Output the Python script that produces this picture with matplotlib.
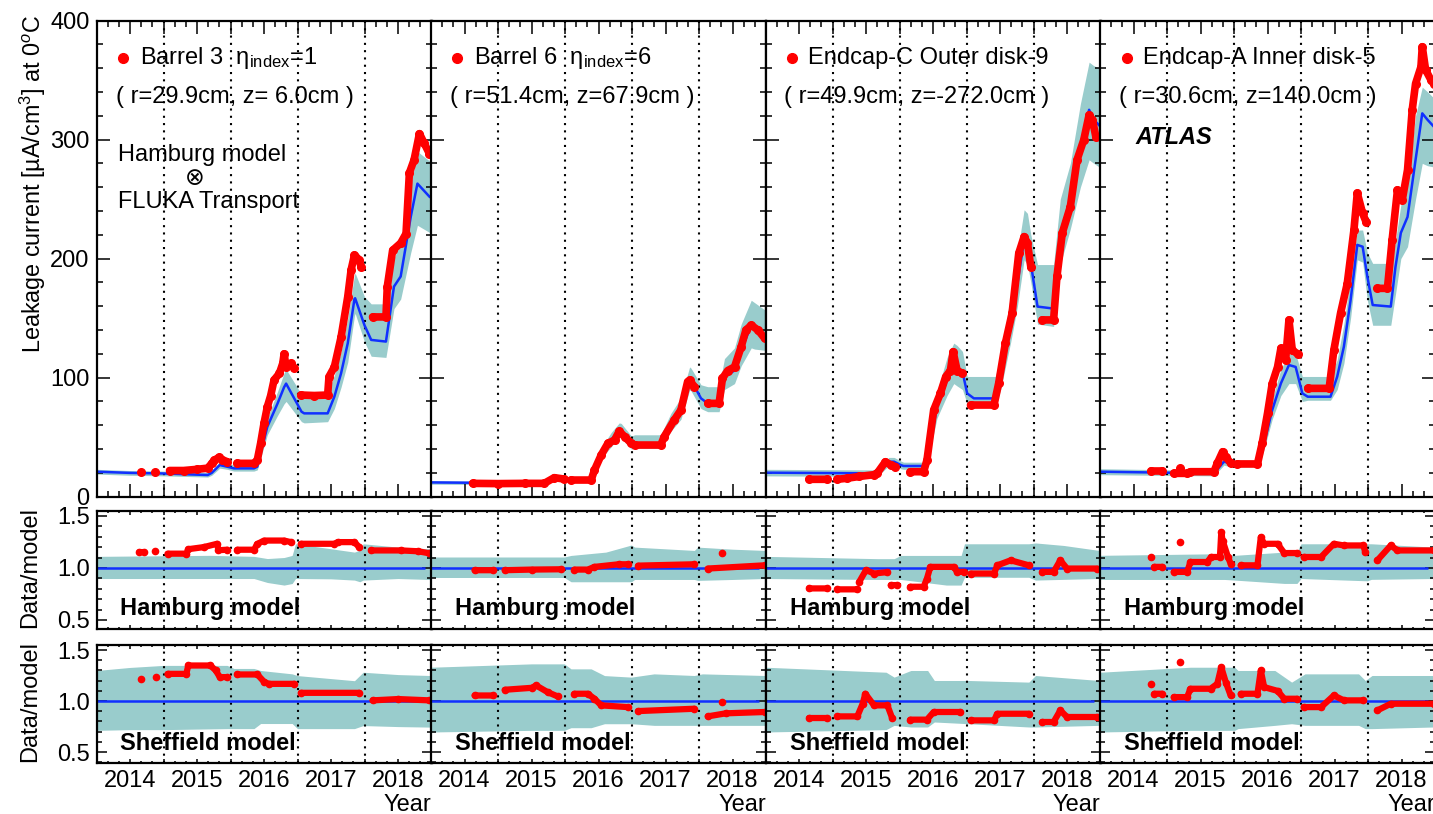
import numpy as np
import matplotlib
matplotlib.use('Agg')
import matplotlib.pyplot as plt
from matplotlib.ticker import FixedLocator, FixedFormatter, MultipleLocator, FormatStrFormatter

plt.rcParams['font.family'] = ['Liberation Sans', 'DejaVu Sans']
plt.rcParams['mathtext.fontset'] = 'custom'
plt.rcParams['mathtext.rm'] = 'Liberation Sans'
plt.rcParams['mathtext.it'] = 'Liberation Sans:italic'
plt.rcParams['mathtext.bf'] = 'Liberation Sans:bold'

nan = np.nan

# ---------------- Barrel 3 ----------------
b3_t = [2014.00, 2014.50, 2015.00, 2015.66, 2015.72, 2015.84, 2015.95, 2016.05, 2016.35, 2016.40,
        2016.55, 2016.70, 2016.80, 2016.83, 2017.06, 2017.10, 2017.45, 2017.55, 2017.65, 2017.75,
        2017.85, 2017.86, 2018.00, 2018.10, 2018.32, 2018.44, 2018.54, 2018.69, 2018.79, 2018.97]
b3_model = [21, 20, 19.5, 18.2, 20, 26.6, 25.2, 23.8, 23.8, 25.2,
            58.8, 78, 92, 95, 71.4, 70, 70, 84, 103.6, 128.9,
            166, 166.7, 144, 131.7, 130.3, 176.5, 185, 235, 263, 252]
b3_lo = [19, 18, 17.5, 16.5, 18, 24, 23, 21.5, 21.5, 22.5,
         52, 68, 78, 80, 63, 62, 63, 74, 92, 113,
         152, 154, 130, 118, 117, 158, 166, 205, 228, 222]
b3_hi = [23, 22, 21.5, 20.5, 22, 29.5, 28, 26.5, 26.5, 28,
         66, 88, 104, 107, 86, 87, 88, 102, 122, 150,
         186, 188, 168, 162, 162, 200, 215, 262, 290, 282]
b3_data_t = [2014.66, nan, 2014.87, nan, 2015.09, 2015.30, 2015.50, 2015.66, 2015.72, 2015.76,
             2015.83, 2015.88, 2015.95, nan, 2016.10, 2016.35, 2016.40, 2016.45, 2016.50, 2016.55,
             2016.60, 2016.65, 2016.73, 2016.78, 2016.80, 2016.83, 2016.90, 2016.95, nan, 2017.05,
             2017.25, 2017.45, 2017.47, 2017.55, 2017.65, 2017.75, 2017.80, 2017.85, 2017.92, 2017.95,
             nan, 2018.12, 2018.32, 2018.34, 2018.42, 2018.54, 2018.62, 2018.67, 2018.74, 2018.82,
             2018.89, 2018.97]
b3_data = [21, nan, 21, nan, 22, 22, 23, 24, 28, 30.8,
           33, 31, 29.4, nan, 28, 28, 30.8, 45, 61.6, 75.6,
           85, 98, 103.6, 112, 120, 109, 112, 108, nan, 85.4,
           85, 85.4, 100.8, 109, 134, 168, 190.5, 203, 199, 193,
           nan, 151, 151, 176.5, 207, 213, 221, 272, 283, 305,
           297, 288]
b3_ham_band_t = [2014.00, 2015.70, 2016.35, 2016.55, 2016.80, 2016.92, 2016.97, 2017.50, 2017.85,
                 2017.93, 2017.98, 2018.50, 2018.97]
b3_ham_lo = [0.898, 0.898, 0.898, 0.86, 0.835, 0.85, 0.898, 0.895, 0.883, 0.867, 0.883, 0.898, 0.889]
b3_ham_hi = [1.111, 1.121, 1.111, 1.09, 1.10, 1.12, 1.232, 1.184, 1.152, 1.17, 1.232, 1.20, 1.184]
b3_ham_t = [2014.64, 2014.71, nan, 2014.87, nan, 2015.06, 2015.34, 2015.37, 2015.60, 2015.80,
            2015.82, 2015.95, nan, 2016.10, 2016.35, 2016.40, 2016.50, 2016.80, 2016.90, nan,
            2017.05, 2017.55, 2017.60, 2017.85, 2017.92, nan, 2018.10, 2018.55, 2018.80, 2018.97]
b3_ham = [1.152, 1.152, nan, 1.162, nan, 1.137, 1.137, 1.18, 1.20, 1.232,
          1.17, 1.175, nan, 1.175, 1.175, 1.23, 1.263, 1.263, 1.248, nan,
          1.232, 1.232, 1.248, 1.248, 1.20, nan, 1.168, 1.168, 1.16, 1.14]
b3_shf_band_t = [2014.00, 2014.50, 2015.00, 2015.95, 2016.05, 2016.35, 2016.45, 2016.92, 2017.00,
                 2017.85, 2017.98, 2018.50, 2018.97]
b3_shf_lo = [0.713, 0.72, 0.72, 0.73, 0.73, 0.73, 0.78, 0.78, 0.73, 0.73, 0.76, 0.75, 0.745]
b3_shf_hi = [1.30, 1.33, 1.35, 1.35, 1.32, 1.32, 1.30, 1.267, 1.25, 1.20, 1.283, 1.26, 1.251]
b3_shf_t = [2014.66, nan, 2014.89, nan, 2015.06, 2015.34, 2015.37, 2015.70, 2015.78, 2015.84,
            2015.95, nan, 2016.10, 2016.40, 2016.50, 2016.57, 2016.95, nan, 2017.05, 2017.92,
            nan, 2018.12, 2018.50, 2018.97]
b3_shf = [1.218, nan, 1.235, nan, 1.267, 1.267, 1.349, 1.349, 1.30, 1.235,
          1.235, nan, 1.261, 1.261, 1.19, 1.169, 1.169, nan, 1.081, 1.081,
          nan, 1.007, 1.02, 1.007]

# ---------------- Barrel 6 ----------------
b6_t = [2014.00, 2015.69, 2015.84, 2015.99, 2016.39, 2016.54, 2016.69, 2016.81, 2016.84, 2016.99,
        2017.04, 2017.43, 2017.58, 2017.73, 2017.86, 2017.88, 2018.03, 2018.13, 2018.30, 2018.38,
        2018.53, 2018.63, 2018.78, 2018.83, 2018.98]
b6_model = [12, 11.2, 16.2, 14.8, 14, 36.4, 47.6, 56, 55, 44.8,
            43.4, 43.4, 61.6, 72.8, 98, 98, 82.6, 78.4, 78.4, 100.8,
            106, 123, 144, 142, 134]
b6_lo = [10.5, 10, 14.5, 13, 12.5, 32, 42, 50, 49, 40,
         40.6, 40.6, 55, 65, 89.6, 89, 74, 71.4, 71.4, 90,
         95, 110, 125, 124, 123]
b6_hi = [13.5, 12.5, 18, 16.5, 15.5, 41, 54, 62, 61.5, 51,
         52, 52, 70, 83, 109, 108, 94, 92.4, 92.4, 116,
         125, 145, 165, 163, 157]
b6_data_t = [2014.62, 2015.00, 2015.40, 2015.69, 2015.84, 2015.99, nan, 2016.09, 2016.39, 2016.44,
             2016.54, 2016.64, 2016.74, 2016.81, 2016.89, 2016.99, 2017.04, 2017.43, 2017.48, 2017.63,
             2017.73, 2017.83, 2017.86, 2017.93, nan, 2018.13, 2018.30, 2018.35, 2018.43, 2018.53,
             2018.63, 2018.70, 2018.78, 2018.88, 2018.98]
b6_data = [11.2, 11, 11.2, 11.2, 16, 14.8, nan, 14, 14, 22.4,
           35, 44.8, 47.6, 55, 50.4, 44.8, 43.4, 43.4, 50.4, 64.4,
           72.8, 96.6, 98, 92.4, nan, 78.4, 78.4, 99.4, 106, 109,
           126, 140, 144, 140, 133]
b6_ham_band_t = [2014.00, 2015.99, 2016.09, 2016.61, 2016.99, 2017.04, 2017.93, 2017.98, 2018.50, 2018.98]
b6_ham_lo = [0.908, 0.908, 0.867, 0.867, 0.867, 0.889, 0.889, 0.88, 0.889, 0.898]
b6_ham_hi = [1.105, 1.105, 1.12, 1.152, 1.22, 1.20, 1.168, 1.20, 1.18, 1.168]
b6_ham_t = [2014.65, 2014.92, nan, 2015.10, 2015.50, 2015.94, nan, 2016.14, 2016.34, 2016.44,
            2016.80, 2016.94, nan, 2017.09, 2017.93, nan, 2018.13, 2018.98, nan, 2018.35]
b6_ham = [0.978, 0.978, nan, 0.978, 0.984, 0.987, nan, 0.984, 0.984, 1.01,
          1.035, 1.035, nan, 1.022, 1.035, nan, 0.994, 1.025, nan, 1.143]
b6_shf_band_t = [2014.00, 2015.50, 2015.99, 2016.09, 2016.39, 2016.59, 2016.99, 2017.33, 2017.93,
                 2018.05, 2018.98]
b6_shf_lo = [0.697, 0.713, 0.713, 0.739, 0.739, 0.778, 0.778, 0.762, 0.762, 0.762, 0.762]
b6_shf_hi = [1.332, 1.365, 1.365, 1.316, 1.316, 1.25, 1.235, 1.267, 1.251, 1.267, 1.251]
b6_shf_t = [2014.65, 2014.92, nan, 2015.10, 2015.50, 2015.57, 2015.74, 2015.89, nan, 2016.14,
            2016.34, 2016.44, 2016.54, 2016.94, nan, 2017.09, 2017.93, nan, 2018.13, 2018.40,
            2018.98, nan, 2018.35]
b6_shf = [1.055, 1.055, nan, 1.111, 1.13, 1.153, 1.088, 1.046, nan, 1.072,
          1.072, 1.023, 0.958, 0.941, nan, 0.902, 0.925, nan, 0.85, 0.88,
          0.893, nan, 0.99]

# ---------------- Endcap-C ----------------
ecc_t = [2014.00, 2015.67, 2015.84, 2015.92, 2016.02, 2016.06, 2016.36, 2016.46, 2016.56, 2016.71,
         2016.81, 2016.86, 2016.94, 2017.01, 2017.11, 2017.43, 2017.51, 2017.66, 2017.76, 2017.86,
         2017.91, 2017.96, 2018.06, 2018.30, 2018.40, 2018.55, 2018.70, 2018.83, 2018.90, 2018.98]
ecc_model = [20.2, 19.6, 29.4, 29.4, 26.6, 25.8, 25.8, 44.8, 75.6, 98,
             112, 109, 105, 86.8, 82.6, 82.6, 103.6, 148.5, 179, 215.7,
             211.5, 196, 159.7, 158, 221.6, 249, 291, 325, 316.5, 312]
ecc_lo = [17.5, 17, 26, 26, 23.5, 23, 23, 40, 66, 85,
          95, 93, 90, 78, 75.6, 75.6, 90, 130, 160, 199,
          195, 180, 145, 143, 195, 225, 260, 283, 280, 277]
ecc_hi = [23, 22.5, 33, 33, 30, 29, 29, 52, 88, 117,
          129, 127, 122, 101, 101, 101, 117, 170, 205, 241,
          238, 220, 195, 195, 250, 280, 330, 365, 362, 360]
ecc_data_t = [2014.65, 2014.92, nan, 2015.07, 2015.22, 2015.40, 2015.62, 2015.67, 2015.79, 2015.87,
              2015.94, nan, 2016.16, 2016.36, 2016.41, 2016.51, 2016.61, 2016.69, 2016.76, 2016.80,
              2016.86, 2016.94, nan, 2017.06, 2017.41, 2017.48, 2017.58, 2017.68, 2017.78, 2017.86,
              2017.91, 2017.96, nan, 2018.13, 2018.30, 2018.35, 2018.43, 2018.55, 2018.65, 2018.75,
              2018.83, 2018.88, 2018.93]
ecc_data = [14.6, 14.6, nan, 14.6, 15.5, 17, 18.5, 20, 29.4, 26.6,
            25.2, nan, 21, 21, 30.8, 72.8, 86.8, 100.8, 106, 121.8,
            106, 103.6, nan, 77, 77, 95.2, 128.9, 154, 204.5, 218.5,
            213, 193, nan, 148.5, 148.5, 185, 221.6, 243.7, 283, 299.7,
            320.7, 316.5, 302.5]
ecc_ham_band_t = [2014.00, 2015.67, 2015.92, 2016.02, 2016.70, 2016.92, 2016.97, 2017.93, 2018.03,
                  2018.45, 2018.98]
ecc_ham_lo = [0.898, 0.889, 0.889, 0.889, 0.835, 0.835, 0.91, 0.91, 0.883, 0.89, 0.898]
ecc_ham_hi = [1.111, 1.089, 1.089, 1.12, 1.12, 1.12, 1.232, 1.232, 1.24, 1.216, 1.168]
ecc_ham_t = [2014.65, 2014.92, nan, 2015.07, 2015.37, nan, 2015.40, 2015.50, 2015.62, 2015.82,
             nan, 2015.87, 2015.97, nan, 2016.16, 2016.36, 2016.41, 2016.46, 2016.81, 2016.86,
             2016.96, nan, 2017.06, 2017.41, 2017.46, 2017.66, 2017.93, nan, 2018.13, 2018.30,
             2018.40, 2018.50, 2018.95]
ecc_ham = [0.803, 0.803, nan, 0.794, 0.794, nan, 0.867, 0.98, 0.946, 0.96,
           nan, 0.835, 0.835, nan, 0.819, 0.819, 0.898, 1.01, 1.01, 0.962,
           0.962, nan, 0.946, 0.946, 1.025, 1.073, 1.025, nan, 0.962, 0.962,
           1.073, 0.994, 0.994]
ecc_shf_band_t = [2014.00, 2015.80, 2015.92, 2016.17, 2016.42, 2016.52, 2017.03, 2017.93, 2018.03, 2018.98]
ecc_shf_lo = [0.697, 0.72, 0.762, 0.746, 0.746, 0.795, 0.778, 0.746, 0.746, 0.762]
ecc_shf_hi = [1.332, 1.283, 1.235, 1.30, 1.30, 1.202, 1.202, 1.186, 1.251, 1.202]
ecc_shf_t = [2014.65, 2014.92, nan, 2015.07, 2015.37, 2015.45, 2015.49, 2015.62, 2015.82, 2015.89,
             nan, 2016.16, 2016.41, 2016.51, 2016.91, nan, 2017.06, 2017.41, 2017.46, 2017.93,
             nan, 2018.13, 2018.30, 2018.40, 2018.50, 2018.95]
ecc_shf = [0.834, 0.834, nan, 0.85, 0.85, 0.974, 1.072, 0.958, 0.958, 0.834,
           nan, 0.818, 0.818, 0.893, 0.893, nan, 0.811, 0.811, 0.876, 0.876,
           nan, 0.795, 0.795, 0.909, 0.844, 0.844]

# ---------------- Endcap-A ----------------
eca_t = [2014.00, 2015.70, 2015.85, 2015.95, 2016.05, 2016.37, 2016.45, 2016.57, 2016.70, 2016.82,
         2016.92, 2017.02, 2017.10, 2017.44, 2017.54, 2017.64, 2017.74, 2017.84, 2017.92, 2017.99,
         2018.07, 2018.34, 2018.41, 2018.49, 2018.59, 2018.71, 2018.81, 2018.89, 2018.98]
eca_model = [21, 19.6, 29.4, 28, 28, 27.5, 44.8, 72.8, 95.2, 110.6,
             109, 86.8, 84, 84, 100.8, 126, 165, 211.5, 210, 185,
             161, 159.7, 193, 221.6, 235, 283, 322, 316.5, 311]
eca_lo = [18.5, 17.5, 26.5, 25, 25, 25, 40, 65, 85, 95,
          95, 80, 81, 81, 90, 112, 150, 199, 197, 165,
          144, 144, 170, 200, 210, 250, 280, 278, 277]
eca_hi = [23.5, 22, 32.5, 31, 31, 30.5, 50, 82, 107, 120,
          120, 101, 101, 101, 115, 145, 185, 224, 224, 205,
          196, 196, 215, 245, 265, 320, 344, 340, 335]
eca_data_t = [2014.76, 2014.93, nan, 2015.10, 2015.30, 2015.35, 2015.70, 2015.75, 2015.83, 2015.88,
              2015.95, nan, 2016.05, 2016.35, 2016.42, 2016.50, 2016.57, 2016.65, 2016.70, 2016.77,
              2016.82, 2016.87, 2016.95, nan, 2017.10, 2017.42, 2017.49, 2017.59, 2017.69, 2017.79,
              2017.84, 2017.92, 2017.97, nan, 2018.14, 2018.29, 2018.36, 2018.44, 2018.51, 2018.59,
              2018.66, 2018.71, 2018.79, 2018.81, 2018.86, 2018.94, 2018.98, nan, 2015.20]
eca_data = [21.6, 21.6, nan, 19.6, 19.6, 21, 21, 28, 37.8, 33.6,
            28, nan, 27.5, 27.5, 44.8, 70, 95, 109, 124.6, 114.8,
            148.5, 123, 120, nan, 91, 91, 123, 154, 179, 224,
            255, 238, 231, nan, 175, 175, 215.7, 257.7, 249, 274.5,
            325, 347, 361, 378, 358.5, 350, 347, nan, 24]
eca_ham_band_t = [2014.00, 2015.86, 2016.01, 2016.75, 2016.94, 2017.00, 2017.99, 2018.05, 2018.98]
eca_ham_lo = [0.889, 0.889, 0.883, 0.851, 0.851, 0.898, 0.876, 0.89, 0.898]
eca_ham_hi = [1.121, 1.137, 1.121, 1.152, 1.152, 1.232, 1.232, 1.232, 1.20]
eca_ham_t = [2014.76, nan, 2014.81, 2014.93, nan, 2015.10, 2015.30, 2015.35, 2015.60, 2015.66,
             2015.79, 2015.81, 2015.83, 2015.91, 2015.95, nan, 2016.10, 2016.35, 2016.40, 2016.45,
             2016.65, 2016.75, 2016.94, nan, 2017.04, 2017.30, 2017.49, 2017.64, 2017.93, 2017.96,
             nan, 2018.14, 2018.34, 2018.44, 2018.98, nan, 2015.20]
eca_ham = [1.105, nan, 1.01, 1.01, nan, 0.962, 0.962, 1.057, 1.057, 1.105,
           1.105, 1.343, 1.263, 1.105, 1.041, nan, 1.025, 1.025, 1.295, 1.232,
           1.232, 1.143, 1.143, nan, 1.105, 1.105, 1.232, 1.216, 1.216, 1.15,
           nan, 1.073, 1.216, 1.168, 1.168, nan, 1.248]
eca_shf_band_t = [2014.00, 2015.35, 2016.01, 2016.06, 2016.61, 2016.86, 2017.06, 2017.86, 2017.96,
                  2018.06, 2018.98]
eca_shf_lo = [0.697, 0.713, 0.713, 0.73, 0.762, 0.778, 0.762, 0.762, 0.73, 0.73, 0.746]
eca_shf_hi = [1.283, 1.332, 1.332, 1.30, 1.30, 1.186, 1.267, 1.267, 1.202, 1.251, 1.251]
eca_shf_t = [2014.76, nan, 2014.81, 2014.93, nan, 2015.10, 2015.30, 2015.35, 2015.65, 2015.75,
             2015.81, 2015.88, 2015.95, nan, 2016.10, 2016.35, 2016.40, 2016.45, 2016.65, 2016.75,
             2016.94, nan, 2017.04, 2017.30, 2017.49, 2017.64, 2017.93, nan, 2018.14, 2018.34,
             2018.98, nan, 2015.20]
eca_shf = [1.169, nan, 1.072, 1.072, nan, 1.039, 1.039, 1.121, 1.121, 1.169,
           1.332, 1.18, 1.055, nan, 1.072, 1.072, 1.30, 1.137, 1.10, 1.023,
           1.023, nan, 0.941, 0.941, 1.055, 1.007, 1.007, nan, 0.909, 0.974,
           0.974, nan, 1.381]

titles = ['Barrel 3  η$_{\\mathrm{index}}$=1', 'Barrel 6  η$_{\\mathrm{index}}$=6',
          'Endcap-C Outer disk-9', 'Endcap-A Inner disk-5']
positions = ['( r=29.9cm, z= 6.0cm )', '( r=51.4cm, z=67.9cm )',
             '( r=49.9cm, z=-272.0cm )', '( r=30.6cm, z=140.0cm )']
year_bounds = [2015, 2016, 2017, 2018]

panels = [
    (b3_t, b3_model, b3_lo, b3_hi, b3_data_t, b3_data,
     b3_ham_band_t, b3_ham_lo, b3_ham_hi, b3_ham_t, b3_ham,
     b3_shf_band_t, b3_shf_lo, b3_shf_hi, b3_shf_t, b3_shf),
    (b6_t, b6_model, b6_lo, b6_hi, b6_data_t, b6_data,
     b6_ham_band_t, b6_ham_lo, b6_ham_hi, b6_ham_t, b6_ham,
     b6_shf_band_t, b6_shf_lo, b6_shf_hi, b6_shf_t, b6_shf),
    (ecc_t, ecc_model, ecc_lo, ecc_hi, ecc_data_t, ecc_data,
     ecc_ham_band_t, ecc_ham_lo, ecc_ham_hi, ecc_ham_t, ecc_ham,
     ecc_shf_band_t, ecc_shf_lo, ecc_shf_hi, ecc_shf_t, ecc_shf),
    (eca_t, eca_model, eca_lo, eca_hi, eca_data_t, eca_data,
     eca_ham_band_t, eca_ham_lo, eca_ham_hi, eca_ham_t, eca_ham,
     eca_shf_band_t, eca_shf_lo, eca_shf_hi, eca_shf_t, eca_shf),
]

RED = '#ff0000'
BLUE = '#1030ff'
TEAL = '#99cccc'
FS = 17

W, H = 1433, 814
fig = plt.figure(figsize=(W / 100, H / 100), dpi=100)

col_left = [96.5, 431.0, 765.5, 1100.0]
col_w = 335.0
rows = [(20.5, 496.7), (510.7, 629.3), (645.0, 763.3)]


def px_axes(left, top, bottom):
    return fig.add_axes([left / W, 1 - bottom / H, col_w / W, (bottom - top) / H])


def style_x(ax, bottom_row, major_len, minor_len):
    # long ticks every half year, labels sit on the mid-year ones
    majors = [2014 + 0.5 * k for k in range(11)]
    labels = [str(int(m)) if (m % 1) == 0.5 and bottom_row else '' for m in majors]
    ax.xaxis.set_major_locator(FixedLocator(majors))
    ax.xaxis.set_major_formatter(FixedFormatter(labels))
    ax.xaxis.set_minor_locator(FixedLocator([2014 + k / 6 for k in range(31) if k % 3]))
    ax.set_xlim(2014.0, 2019.0)
    ax.tick_params(axis='x', which='major', length=major_len)
    ax.tick_params(axis='x', which='minor', length=minor_len)


def common(ax, first_col):
    ax.tick_params(which='both', direction='in', top=True, right=True, width=1.1,
                   labelsize=FS, labelleft=first_col, pad=5)
    for s in ax.spines.values():
        s.set_linewidth(1.6)
    for yr in year_bounds:
        ax.axvline(yr, color='black', ls=(0, (1, 2.5)), lw=1.5, zorder=1.5)


for c, p in enumerate(panels):
    (t, model, lo, hi, dt, dv, hbt, hlo, hhi, ht, hv, sbt, slo, shi, st, sv) = p
    L = col_left[c]
    first = c == 0

    # leakage current, data against model
    ax = px_axes(L, *rows[0])
    ax.fill_between(t, lo, hi, color=TEAL, lw=0, zorder=1)
    ax.plot(t, model, color=BLUE, lw=1.8, zorder=2)
    ax.plot(dt, dv, color=RED, lw=5.5, marker='o', ms=5.5, solid_capstyle='round', zorder=3)
    ax.set_ylim(0, 400)
    ax.yaxis.set_major_locator(MultipleLocator(100))
    ax.yaxis.set_minor_locator(MultipleLocator(20))
    style_x(ax, False, 9.4, 4.3)
    ax.tick_params(axis='y', which='major', length=9.4)
    ax.tick_params(axis='y', which='minor', length=4.3)
    common(ax, first)
    ph = rows[0][1] - rows[0][0]
    ax.plot([26.5 / col_w], [1 - (58 - 20.5) / ph], 'o', color=RED, ms=7,
            transform=ax.transAxes, clip_on=False)
    ax.text(43 / col_w, 1 - (58 - 20.5) / ph, titles[c], transform=ax.transAxes,
            fontsize=FS, ha='left', va='center')
    ax.text(19 / col_w, 1 - (97 - 20.5) / ph, positions[c], transform=ax.transAxes,
            fontsize=FS, ha='left', va='center')
    if c == 0:
        ax.text(22 / col_w, 1 - (155 - 20.5) / ph, 'Hamburg model', transform=ax.transAxes,
                fontsize=FS, ha='left', va='center')
        ax.text(98 / col_w, 1 - (178 - 20.5) / ph, '⊗', transform=ax.transAxes,
                fontsize=FS, ha='center', va='center', family=['DejaVu Sans'])
        ax.text(22 / col_w, 1 - (202 - 20.5) / ph, 'FLUKA Transport', transform=ax.transAxes,
                fontsize=FS, ha='left', va='center')
    if c == 3:
        ax.text(35 / col_w, 1 - (138 - 20.5) / ph, 'ATLAS', transform=ax.transAxes,
                fontsize=FS, ha='left', va='center', fontweight='bold', fontstyle='italic')

    # data/model ratios for the two annealing models
    for r, (bt, blo, bhi, rt, rv, name, ylo) in enumerate(
            [(hbt, hlo, hhi, ht, hv, 'Hamburg model', 0.41),
             (sbt, slo, shi, st, sv, 'Sheffield model', 0.39)]):
        top, bot = rows[r + 1]
        ax = px_axes(L, top, bot)
        ax.fill_between(bt, blo, bhi, color=TEAL, lw=0, zorder=1)
        ax.hlines(1.0, 2014.0, 2018.9, color=BLUE, lw=1.8, zorder=2)
        ax.plot(rt, rv, color=RED, lw=4.5, marker='o', ms=4.5, solid_capstyle='round', zorder=3)
        ax.set_ylim(ylo, 1.55)
        ax.yaxis.set_major_locator(FixedLocator([0.5, 1.0, 1.5]))
        ax.yaxis.set_major_formatter(FormatStrFormatter('%.1f'))
        ax.yaxis.set_minor_locator(MultipleLocator(0.1))
        style_x(ax, r == 1, 3, 1.5)
        ax.tick_params(axis='y', which='major', length=7.5)
        ax.tick_params(axis='y', which='minor', length=3.6)
        common(ax, first)
        ax.text(24 / col_w, 1 - ((608 if r == 0 else 743) - top) / (bot - top), name,
                transform=ax.transAxes, fontsize=FS, fontweight='bold', ha='left', va='center')
        if r == 1:
            ax.set_xlabel('Year', loc='right', fontsize=FS, labelpad=1)

fig.text(33 / W, 1 - 15 / H, 'Leakage current [µA/cm$^{3}$] at 0$^{o}$C', rotation=90,
         ha='center', va='top', fontsize=16.8)
fig.text(30 / W, 1 - 568 / H, 'Data/model', rotation=90, ha='center', va='center', fontsize=FS)
fig.text(30 / W, 1 - 702 / H, 'Data/model', rotation=90, ha='center', va='center', fontsize=FS)

fig.savefig('out.png', dpi=100)
